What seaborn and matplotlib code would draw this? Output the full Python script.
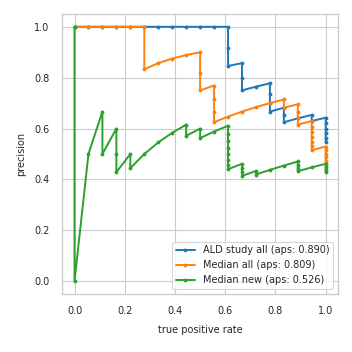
import numpy as np
import pandas as pd
import matplotlib
matplotlib.use('Agg')
import matplotlib.pyplot as plt
import seaborn as sns

# ranked predictions, best score first: 1 = hit, 0 = miss
ald_all_hits = [1]*11 + [0, 0, 1, 0, 0, 1, 1, 0, 0, 0, 1, 0, 0, 1, 1, 0, 1] + [0]*5
median_all_hits = [1]*5 + [0, 1, 1, 1, 1, 0, 0, 1, 0, 0, 0, 1, 1, 1, 1, 1, 0, 1, 0, 0, 0, 1] + [0]*6 + [1] + [0]*5
median_new_hits = [0, 1, 1, 0, 1, 0, 0, 1, 0, 1, 1, 1, 1, 0, 1, 0, 1, 1] + [0]*7 + [1, 0, 0, 0, 1, 0, 1, 1, 1, 0, 0, 0, 1, 1] + [0]*3

curve_names = ['ALD study all (aps: 0.890)', 'Median all (aps: 0.809)', 'Median new (aps: 0.526)']
curve_colors = ['#1f77b4', '#ff7f0e', '#2ca02c']


def pr_points(hits):
	hits = np.array(hits)
	tp = np.cumsum(hits)
	fp = np.cumsum(1 - hits)
	recall = np.concatenate([[0.0], tp / tp[-1]])
	precision = np.concatenate([[1.0], tp / (tp + fp)])
	return recall, precision


sns.set_theme(style='whitegrid', context='paper')
plt.rcParams['font.family'] = ['DejaVu Sans']

fig, ax = plt.subplots(figsize=(3.52, 3.52), dpi=100)
fig.subplots_adjust(left=0.176, right=0.961, bottom=0.165, top=0.96)

for hits, name, col in zip([ald_all_hits, median_all_hits, median_new_hits], curve_names, curve_colors):
	rec, prec = pr_points(hits)
	df = pd.DataFrame({'true positive rate': rec, 'precision': prec})
	sns.lineplot(x='true positive rate', y='precision', data=df, sort=False, estimator=None,
				 color=col, label=name, marker='.', markersize=4.5, markeredgecolor=col,
				 markeredgewidth=0.5, linewidth=1.4, ax=ax)

ax.tick_params(labelsize=7, length=0, pad=9)
ax.set_xlabel('true positive rate', fontsize=7, labelpad=6)
ax.set_ylabel('precision', fontsize=7, labelpad=6)
ax.legend(loc='lower right', fontsize=7)

plt.savefig('out.png', dpi=100)
plt.close()
